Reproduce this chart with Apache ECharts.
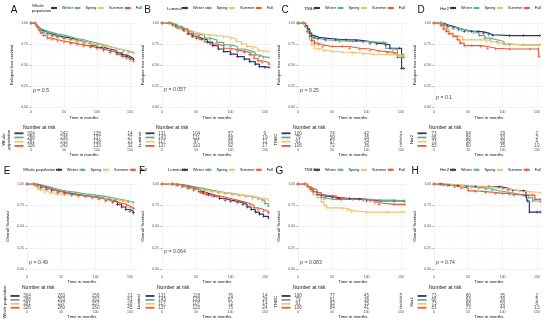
<!DOCTYPE html>
<html><head><meta charset="utf-8">
<script src="https://cdn.jsdelivr.net/npm/echarts@6/dist/echarts.min.js"></script>
<style>html,body{margin:0;padding:0;background:#fff}#c{width:550px;height:330px}</style>
</head><body><div id="c"></div>
<script>
const seasons = ['Winter','Spring','Summer','Fall'];
const seasonColors = ['#2b3467','#62b08f','#f6c16a','#e85a3a'];
const timeTicks = [0,50,100,150];
const riskTimes = [0,50,100,150];

// A: Relapse free survival, whole population
const A_winter = [[0,1],[6,1],[9,0.97],[12,0.94],[15,0.91],[19,0.89],[25,0.87],[32,0.85],[40,0.835],[50,0.82],[60,0.80],[70,0.78],[80,0.76],[90,0.735],[100,0.71],[110,0.69],[120,0.67],[130,0.645],[138,0.62],[145,0.60],[150,0.58],[155,0.565]];
const A_spring = [[0,1],[7,1],[10,0.97],[13,0.94],[16,0.92],[20,0.90],[26,0.885],[33,0.87],[40,0.855],[50,0.835],[60,0.815],[70,0.80],[80,0.78],[90,0.76],[100,0.74],[110,0.72],[120,0.70],[130,0.68],[140,0.665],[148,0.65],[155,0.645]];
const A_summer = [[0,1],[6,1],[9,0.97],[12,0.93],[15,0.90],[19,0.875],[25,0.855],[32,0.835],[40,0.82],[50,0.805],[60,0.79],[70,0.775],[80,0.76],[90,0.745],[100,0.73],[110,0.715],[120,0.70],[130,0.68],[140,0.66],[148,0.645],[155,0.64]];
const A_fall = [[0,1],[6,1],[9,0.96],[12,0.92],[15,0.88],[19,0.85],[25,0.82],[32,0.80],[40,0.785],[50,0.77],[60,0.755],[70,0.74],[80,0.725],[90,0.71],[100,0.69],[110,0.67],[120,0.65],[130,0.625],[138,0.60],[145,0.58],[150,0.56],[155,0.545]];
// B: Relapse free survival, luminal
const B_winter = [[0,1],[10,1],[15,0.98],[20,0.96],[26,0.94],[32,0.91],[38,0.87],[44,0.84],[50,0.82],[58,0.80],[66,0.77],[74,0.73],[82,0.69],[90,0.66],[100,0.63],[110,0.60],[120,0.57],[128,0.54],[136,0.51],[142,0.48],[150,0.47],[156,0.47]];
const B_spring = [[0,1],[10,1],[15,0.985],[22,0.96],[30,0.93],[38,0.90],[46,0.87],[54,0.85],[62,0.82],[70,0.80],[80,0.77],[90,0.74],[100,0.72],[110,0.69],[120,0.67],[130,0.65],[136,0.62],[142,0.60],[148,0.59],[156,0.59]];
const B_summer = [[0,1],[12,1],[18,0.97],[26,0.94],[34,0.91],[42,0.89],[50,0.87],[60,0.86],[70,0.85],[80,0.845],[90,0.83],[100,0.81],[108,0.78],[116,0.75],[124,0.72],[132,0.70],[140,0.67],[148,0.66],[156,0.655]];
const B_fall = [[0,1],[12,1],[16,0.97],[22,0.94],[30,0.92],[38,0.88],[46,0.84],[54,0.81],[62,0.78],[70,0.75],[80,0.73],[90,0.70],[100,0.68],[110,0.665],[120,0.65],[128,0.62],[134,0.58],[140,0.55],[146,0.53],[156,0.51]];
// C: Relapse free survival, TNBC
const C_winter = [[0,1],[8,1],[11,0.97],[14,0.93],[17,0.88],[20,0.85],[24,0.83],[30,0.82],[40,0.81],[55,0.80],[70,0.80],[85,0.79],[95,0.78],[105,0.76],[115,0.75],[128,0.74],[134,0.70],[148,0.70],[151,0.46],[154,0.46]];
const C_spring = [[0,1],[8,1],[11,0.96],[14,0.91],[18,0.86],[22,0.82],[28,0.80],[40,0.79],[60,0.78],[80,0.78],[95,0.775],[110,0.77],[125,0.77],[128,0.70],[138,0.68],[145,0.62],[154,0.62]];
const C_summer = [[0,1],[8,1],[11,0.95],[14,0.88],[17,0.80],[20,0.74],[24,0.70],[30,0.68],[38,0.665],[50,0.655],[65,0.65],[80,0.64],[95,0.63],[110,0.625],[130,0.62],[145,0.62],[150,0.60],[154,0.60]];
const C_fall = [[0,1],[8,1],[11,0.96],[14,0.90],[17,0.84],[20,0.79],[24,0.76],[30,0.74],[36,0.72],[50,0.72],[65,0.72],[75,0.70],[90,0.69],[105,0.67],[118,0.66],[130,0.65],[140,0.64],[145,0.59],[154,0.59]];
// D: Relapse free survival, Her2
const D_winter = [[0,1],[10,1],[14,0.98],[20,0.96],[28,0.94],[36,0.92],[44,0.90],[55,0.90],[65,0.895],[72,0.88],[80,0.86],[86,0.85],[110,0.85],[130,0.85],[154,0.85]];
const D_spring = [[0,1],[10,1],[14,0.97],[20,0.95],[28,0.93],[40,0.91],[50,0.90],[58,0.88],[66,0.85],[74,0.82],[82,0.80],[92,0.78],[102,0.75],[110,0.74],[130,0.74],[154,0.74]];
const D_summer = [[0,1],[8,1],[12,0.96],[16,0.93],[22,0.88],[28,0.85],[36,0.83],[42,0.80],[55,0.80],[68,0.80],[76,0.78],[84,0.77],[94,0.75],[104,0.74],[130,0.74],[154,0.74]];
const D_fall = [[0,1],[6,1],[10,0.97],[14,0.93],[18,0.90],[22,0.87],[28,0.84],[34,0.80],[38,0.76],[44,0.73],[55,0.73],[68,0.72],[78,0.70],[90,0.69],[110,0.69],[140,0.69],[152,0.69],[153,0.60]];
// E: Overall survival, whole population
const E_winter = [[0,1],[10,1],[15,0.98],[20,0.96],[28,0.94],[36,0.92],[45,0.905],[55,0.89],[65,0.875],[75,0.865],[85,0.855],[95,0.845],[105,0.83],[115,0.81],[125,0.79],[132,0.76],[138,0.73],[144,0.70],[150,0.68],[155,0.66]];
const E_spring = [[0,1],[10,1],[16,0.985],[24,0.97],[32,0.95],[40,0.93],[50,0.915],[60,0.905],[70,0.89],[80,0.88],[90,0.87],[100,0.86],[110,0.845],[120,0.83],[130,0.815],[140,0.80],[148,0.79],[155,0.78]];
const E_summer = [[0,1],[8,1],[12,0.97],[16,0.94],[20,0.92],[26,0.90],[34,0.885],[44,0.875],[55,0.87],[65,0.865],[75,0.86],[85,0.85],[95,0.84],[105,0.83],[115,0.82],[125,0.81],[135,0.80],[145,0.785],[155,0.77]];
const E_fall = [[0,1],[10,1],[15,0.98],[22,0.96],[30,0.94],[38,0.92],[46,0.90],[55,0.885],[65,0.87],[75,0.86],[85,0.85],[95,0.835],[105,0.82],[115,0.80],[125,0.78],[135,0.76],[145,0.74],[150,0.72],[155,0.71]];
// F: Overall survival, luminal
const F_winter = [[0,1],[15,1],[22,0.985],[30,0.97],[38,0.95],[46,0.93],[54,0.91],[60,0.89],[68,0.87],[76,0.855],[84,0.83],[92,0.81],[100,0.795],[110,0.78],[118,0.76],[124,0.73],[130,0.70],[136,0.67],[142,0.645],[148,0.62],[155,0.60]];
const F_spring = [[0,1],[15,1],[24,0.99],[32,0.975],[42,0.96],[52,0.945],[62,0.93],[72,0.915],[82,0.90],[92,0.89],[102,0.88],[112,0.865],[122,0.85],[132,0.835],[140,0.82],[146,0.80],[150,0.77],[155,0.74]];
const F_summer = [[0,1],[12,1],[20,0.98],[28,0.96],[36,0.945],[44,0.935],[54,0.925],[64,0.915],[74,0.905],[84,0.895],[94,0.885],[104,0.875],[114,0.865],[124,0.855],[134,0.84],[142,0.83],[150,0.82],[155,0.81]];
const F_fall = [[0,1],[15,1],[22,0.99],[30,0.975],[40,0.955],[48,0.935],[56,0.90],[64,0.875],[72,0.86],[80,0.85],[90,0.83],[100,0.81],[110,0.79],[120,0.77],[128,0.75],[134,0.72],[140,0.70],[148,0.68],[155,0.66]];
// G: Overall survival, TNBC
const G_winter = [[0,1],[10,1],[14,0.97],[18,0.94],[22,0.91],[28,0.88],[34,0.86],[40,0.85],[50,0.84],[60,0.83],[75,0.83],[90,0.82],[100,0.80],[120,0.80],[140,0.80],[155,0.80]];
const G_spring = [[0,1],[10,1],[14,0.97],[18,0.94],[22,0.91],[28,0.87],[34,0.84],[38,0.82],[50,0.82],[65,0.82],[80,0.82],[95,0.82],[105,0.81],[120,0.81],[140,0.80],[155,0.80]];
const G_summer = [[0,1],[10,1],[14,0.96],[18,0.92],[22,0.88],[28,0.84],[34,0.79],[38,0.75],[42,0.72],[55,0.72],[65,0.71],[72,0.69],[78,0.67],[100,0.67],[130,0.67],[155,0.67]];
const G_fall = [[0,1],[10,1],[14,0.97],[18,0.95],[22,0.93],[28,0.90],[34,0.87],[40,0.86],[50,0.86],[56,0.83],[62,0.82],[80,0.82],[95,0.81],[105,0.80],[112,0.78],[118,0.76],[140,0.76],[155,0.76]];
// H: Overall survival, Her2
const H_winter = [[0,1],[10,1],[15,0.99],[22,0.985],[35,0.98],[48,0.97],[60,0.97],[80,0.97],[95,0.965],[100,0.95],[108,0.93],[115,0.92],[130,0.92],[134,0.86],[136,0.80],[139,0.67],[150,0.67],[155,0.67]];
const H_spring = [[0,1],[12,1],[20,0.99],[30,0.98],[45,0.97],[55,0.96],[65,0.95],[75,0.94],[85,0.92],[95,0.90],[110,0.89],[118,0.87],[130,0.87],[138,0.84],[144,0.80],[155,0.79]];
const H_summer = [[0,1],[15,1],[25,0.99],[40,0.98],[55,0.975],[65,0.97],[80,0.96],[92,0.95],[100,0.94],[110,0.93],[118,0.92],[125,0.91],[140,0.90],[155,0.90]];
const H_fall = [[0,1],[8,1],[12,0.99],[20,0.98],[30,0.965],[40,0.95],[50,0.92],[60,0.91],[75,0.90],[90,0.89],[100,0.89],[110,0.88],[116,0.87],[130,0.87],[144,0.87],[147,0.82],[155,0.82]];

// Numbers at risk (rows: Winter, Spring, Summer, Fall; columns: 0, 50, 100, 150 months)
const A_risk = [[304,242,128,14],[288,236,137,27],[281,212,138,21],[326,242,133,32]];
const B_risk = [[131,104,57,9],[143,121,68,19],[117,97,65,11],[137,110,62,17]];
const C_risk = [[100,74,42,3],[79,59,36,6],[91,57,34,6],[106,72,36,5]];
const D_risk = [[73,64,29,2],[66,58,33,2],[73,58,39,4],[83,60,35,10]];
const E_risk = [[304,263,156,21],[288,253,162,41],[281,237,157,28],[326,280,160,45]];
const F_risk = [[131,118,76,14],[143,129,87,28],[117,107,72,14],[137,123,75,24]];
const G_risk = [[100,77,45,5],[79,61,36,8],[91,62,35,6],[106,84,41,8]];
const H_risk = [[73,66,35,2],[66,63,39,5],[73,68,50,8],[83,73,44,13]];

const letters = ['A','B','C','D','E','F','G','H'];
const groupNames = ['Whole\npopulation','Luminal','TNBC','Her2','Whole population','Luminal','TNBC','Her2'];
const tableNames = ['Whole\npopulation','Luminal','TNBC','Her2','Whole population','Luminal','TNBC','Her2'];
const yTitles = ['Relapse free survival','Relapse free survival','Relapse free survival','Relapse free survival','Overall Survival','Overall Survival','Overall Survival','Overall Survival'];
const pValues = ['0.5','0.057','0.25','0.1','0.49','0.064','0.083','0.74'];
const pY = [0.2,0.21,0.2,0.11,0.07,0.2,0.075,0.075];
const curves = [[A_winter,A_spring,A_summer,A_fall],[B_winter,B_spring,B_summer,B_fall],[C_winter,C_spring,C_summer,C_fall],[D_winter,D_spring,D_summer,D_fall],[E_winter,E_spring,E_summer,E_fall],[F_winter,F_spring,F_summer,F_fall],[G_winter,G_spring,G_summer,G_fall],[H_winter,H_spring,H_summer,H_fall]];
const risks = [A_risk,B_risk,C_risk,D_risk,E_risk,F_risk,G_risk,H_risk];

// ---- layout ----
const FONT = '"Liberation Sans", Arial, sans-serif';
const XMAX = 160;
const T0 = [[31,162,298,434],[27,162,298,434]];
const letterX = [14,147.5,285,421,7,142,279.5,415];
const legendTitleX = [32,167,304,440,23,168,304,440];
const legendX = [50,181,313,449,55,181,313,449];
const narX = [23,156,293,429,22,157,293,429];
const tableLabelX = [6.5,140,276,412,4.5,139,276,412];
const gridColor = '#e6e6e6', minorColor = '#f3f3f3';
const CENSOR = 'path://M0,4H10V6H0Z M4,0H6V10H4Z';

const grid = [], xAxis = [], yAxis = [], series = [], legend = [], graphic = [];
function txt(x, y, text, size, opts) {
  opts = opts || {};
  return {type:'text', x:x, y:y, rotation: opts.rot || 0, silent:true,
    style:{text:text, fontSize:size, fontFamily:FONT, fill: opts.fill || '#111',
      align: opts.align || 'left', textAlign: opts.align || 'left',
      verticalAlign:'middle', textVerticalAlign:'middle', lineHeight: opts.lh || size*1.1}};
}

for (let i = 0; i < 8; i++) {
  const r = i < 4 ? 0 : 1, c = i % 4;
  const t0 = T0[r][c];
  const sc = i === 0 ? 0.66 : 0.686;
  const w = sc * XMAX;
  const plotTop = r ? 184 : 23, plotH = r ? 85 : 84;
  const tabTop = r ? 294 : 131.2, tabH = r ? 15.7 : 16.8;
  grid.push({left:t0, top:plotTop, width:w, height:plotH});
  grid.push({left:t0, top:tabTop, width:w, height:tabH});
  const gi = 2 * i;
  const lbl = {fontSize:3.5, color:'#4d4d4d', fontFamily:FONT};
  xAxis.push({gridIndex:gi, type:'value', min:0, max:XMAX, interval:50,
    axisLine:{show:false}, axisTick:{show:false},
    axisLabel:Object.assign({margin: r ? 6 : 3.5, formatter: v => timeTicks.includes(v) ? String(v) : ''}, lbl),
    splitLine:{show:true, lineStyle:{color:[gridColor,gridColor,gridColor,gridColor,'rgba(0,0,0,0)'], width:0.5}},
    minorTick:{show:false, splitNumber:2},
    minorSplitLine:{show:true, lineStyle:{color:minorColor, width:0.4}},
    name:'Time in months', nameLocation:'middle', nameGap: r ? 10.3 : 8.8,
    nameTextStyle:{fontSize:4.3, color:'#111', fontFamily:FONT}});
  xAxis.push({gridIndex:gi+1, type:'value', min:0, max:XMAX, interval:50,
    axisLine:{show:false}, axisTick:{show:false}, splitLine:{show:false},
    axisLabel:Object.assign({margin:0.3, formatter: v => timeTicks.includes(v) ? String(v) : ''}, lbl),
    name:'Time in months', nameLocation:'middle', nameGap:3.9,
    nameTextStyle:{fontSize:4.3, color:'#111', fontFamily:FONT}});
  yAxis.push({gridIndex:gi, type:'value', min:0, max:1, interval:0.25,
    axisLine:{show:false},
    axisTick:{show:true, length:1.5, lineStyle:{color:'#4d4d4d', width:0.5}},
    axisLabel:Object.assign({margin:3, formatter: v => v.toFixed(2)}, lbl),
    splitLine:{show:true, lineStyle:{color:gridColor, width:0.5}},
    minorTick:{show:false, splitNumber:2},
    minorSplitLine:{show:true, lineStyle:{color:minorColor, width:0.4}}});
  const rich = {};
  seasonColors.forEach((col, k) => { rich['b'+k] = {width:9, height:1.8, backgroundColor:col}; });
  yAxis.push({gridIndex:gi+1, type:'category', data:seasons, inverse:true,
    axisLine:{show:false}, axisTick:{show:false}, splitLine:{show:false},
    axisLabel:{interval:0, margin:7.5, formatter:(v, idx) => '{b'+idx+'|}', rich:rich}});

  curves[i].forEach((d, k) => {
    series.push({type:'line', name:seasons[k], xAxisIndex:gi, yAxisIndex:gi, data:d, step:'end',
      symbol:CENSOR, symbolSize:3, showSymbol:true, animation:false, silent:true,
      lineStyle:{width:1.15, color:seasonColors[k]}, itemStyle:{color:seasonColors[k]}});
  });
  series.push({type:'scatter', xAxisIndex:gi, yAxisIndex:gi, data:[[3, pY[i]]], symbolSize:0.1,
    itemStyle:{color:'rgba(0,0,0,0)'}, silent:true, animation:false,
    label:{show:true, position:'right', distance:0, formatter:'{i|p} = ' + pValues[i],
      fontSize:5.2, color:'#111', fontFamily:FONT, rich:{i:{fontStyle:'italic', fontSize:5.2, fontFamily:FONT}}}});
  const riskData = [];
  seasons.forEach((s, k) => riskTimes.forEach((t, j) => riskData.push([t, s, risks[i][k][j]])));
  series.push({type:'scatter', xAxisIndex:gi+1, yAxisIndex:gi+1, data:riskData, symbolSize:0.1,
    itemStyle:{color:'rgba(0,0,0,0)'}, silent:true, animation:false,
    label:{show:true, position:'inside', formatter: p => String(p.value[2]), fontSize:4.6, color:'#1a1a1a', fontFamily:FONT}});

  legend.push({left:legendX[i], top: r ? 167.8 : 6, padding:0, itemGap:0.5, itemWidth:6, itemHeight:4,
    selectedMode:false, data:seasons, textStyle:{fontSize:3.8, color:'#111', fontFamily:FONT}});

  graphic.push(txt(letterX[i], r ? 171.5 : 10, letters[i], 10, {align:'center'}));
  graphic.push(txt(legendTitleX[i], r ? 170 : 8.5, groupNames[i], 4.2, {lh:4.6}));
  graphic.push(txt(t0 - 19, plotTop + plotH / 2, yTitles[i], 4.35, {align:'center', rot:Math.PI/2}));
  graphic.push(txt(narX[i], r ? 288 : 127.5, 'Number at risk', 5, {}));
  graphic.push(txt(tableLabelX[i], tabTop + tabH / 2, tableNames[i], 4.3, {align:'center', rot:Math.PI/2, lh:4.6}));
}

const chart = echarts.init(document.getElementById('c'), null, {renderer:'canvas'});
chart.setOption({backgroundColor:'#fff', animation:false, grid, xAxis, yAxis, series, legend, graphic});
</script></body></html>
